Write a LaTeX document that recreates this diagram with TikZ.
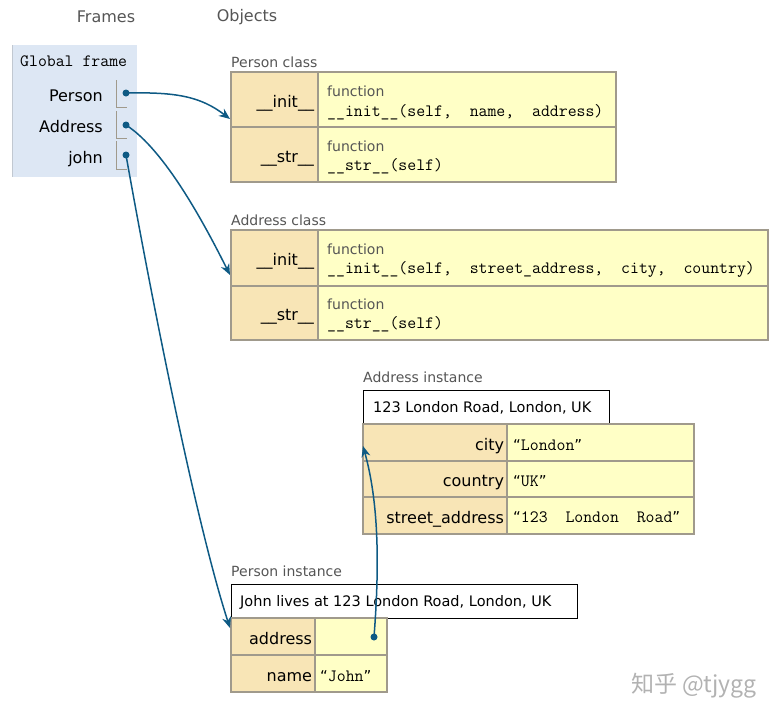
\documentclass[tikz,border=0pt]{standalone}
\usepackage{fontspec}
\setmainfont{DejaVu Sans}
\newfontfamily\cjkf{Noto Sans CJK SC}
\newfontfamily\qfont{DejaVu Sans}
\usetikzlibrary{arrows.meta}
\newcommand{\msp}{\hphantom{x}}
\newcommand{\oq}{{\qfont\fontsize{15}{16}\selectfont “}}
\newcommand{\cq}{{\qfont\fontsize{15}{16}\selectfont ”}}
\definecolor{keyc}{HTML}{F8E5B6}
\definecolor{valc}{HTML}{FFFFC6}
\definecolor{framec}{HTML}{DDE7F4}
\definecolor{bordc}{HTML}{A09A8C}
\definecolor{arrc}{HTML}{0E5A84}
\definecolor{labgray}{HTML}{555555}
\tikzset{
  hdr/.style={font=\fontsize{16}{18}\selectfont, text=labgray, inner sep=0},
  lab/.style={font=\fontsize{14}{16}\selectfont, text=labgray, anchor=base west, inner sep=0},
  fnlab/.style={font=\fontsize{14}{16}\selectfont, text=labgray, anchor=base west, inner sep=0},
  code/.style={font=\ttfamily\fontsize{17.3}{18}\selectfont, anchor=base west, inner sep=0},
  kcell/.style={draw=bordc, line width=1.2pt, fill=keyc, anchor=north west, inner sep=0, outer sep=0,
     align=right, font=\fontsize{16}{18}\selectfont, text height=15pt, text depth=0pt},
  vcell/.style={draw=bordc, line width=1.2pt, fill=valc, anchor=north west, inner sep=0, outer sep=0},
  strbox/.style={draw=black, line width=1pt, fill=white, anchor=north west, inner sep=0, outer sep=0,
     font=\fontsize{14.5}{16}\selectfont},
  fname/.style={font=\fontsize{16}{18}\selectfont, anchor=base east, inner sep=0},
  dot/.style={circle, fill=arrc, inner sep=0, minimum size=7pt},
  ptr/.style={draw=arrc, line width=1.5pt, -{Stealth[length=11pt,width=9pt]}},
  vline/.style={draw=bordc, line width=1pt},
}
\begin{document}
\begin{tikzpicture}[x=1pt,y=-1pt]
\useasboundingbox (0,0) rectangle (780,720);
% headers
\node[hdr] (hframes) at (106,17) {Frames};
\node[hdr] (hobjects) at (247,17) {Objects};
% global frame
\fill[framec] (12,45) rectangle (137,177);
\draw[framec!70!gray, line width=0.8pt] (12,45) -- (12,177);
\node[code, font=\ttfamily\fontsize{17.3}{18}\selectfont] (gf) at (20,66) {Global\msp frame};
\node[fname] (nperson) at (103,101) {Person};
\node[fname] (naddress) at (103,132) {Address};
\node[fname] (njohn) at (103,163) {john};
\draw[vline] (116,80) -- (116,107) -- (127,107);
\draw[vline] (116,111) -- (116,138) -- (127,138);
\draw[vline] (116,141) -- (116,169) -- (127,169);
\node[dot] (dperson) at (126,93) {};
\node[dot] (daddress) at (126,125) {};
\node[dot] (djohn) at (126,155) {};
% Person class
\node[lab] (lpc) at (231,67) {Person class};
\node[kcell, minimum width=87pt, minimum height=55pt, text width=79pt] (pcik) at (231,72) {\_\_init\_\_};
\node[vcell, minimum width=298pt, minimum height=55pt] (pciv) at (318,72) {};
\node[kcell, minimum width=87pt, minimum height=55pt, text width=79pt] (pcsk) at (231,127) {\_\_str\_\_};
\node[vcell, minimum width=298pt, minimum height=55pt] (pcsv) at (318,127) {};
\node[fnlab] (f1) at (327,96) {function};
\node[code] (c1) at (327,116) {\_\_init\_\_(self,\msp\msp name,\msp\msp address)};
\node[fnlab] (f2) at (327,151) {function};
\node[code] (c2) at (327,170) {\_\_str\_\_(self)};
% Address class
\node[lab] (lac) at (231,225) {Address class};
\node[kcell, minimum width=87pt, minimum height=56pt, text width=79pt] (acik) at (231,230) {\_\_init\_\_};
\node[vcell, minimum width=450pt, minimum height=56pt] (aciv) at (318,230) {};
\node[kcell, minimum width=87pt, minimum height=54pt, text width=79pt] (acsk) at (231,286) {\_\_str\_\_};
\node[vcell, minimum width=450pt, minimum height=54pt] (acsv) at (318,286) {};
\node[fnlab] (f3) at (327,254) {function};
\node[code] (c3) at (327,273) {\_\_init\_\_(self,\msp\msp street\_address,\msp\msp city,\msp\msp country)};
\node[fnlab] (f4) at (327,309) {function};
\node[code] (c4) at (327,328) {\_\_str\_\_(self)};
% Address instance
\node[lab] (lai) at (363,382) {Address instance};
\node[strbox, minimum width=246pt, minimum height=34pt] (aistr) at (363,390) {};
\node[anchor=base west, inner sep=0, font=\fontsize{14.5}{16}\selectfont] (aistrt) at (373,412) {123 London Road, London, UK};
\node[kcell, minimum width=144pt, minimum height=37pt, text width=138pt] (aik1) at (363,424) {city};
\node[vcell, minimum width=187pt, minimum height=37pt] (aiv1) at (507,424) {};
\node[kcell, minimum width=144pt, minimum height=36pt, text width=138pt] (aik2) at (363,461) {country};
\node[vcell, minimum width=187pt, minimum height=36pt] (aiv2) at (507,461) {};
\node[kcell, minimum width=144pt, minimum height=37pt, text width=138pt] (aik3) at (363,497) {street\_address};
\node[vcell, minimum width=187pt, minimum height=37pt] (aiv3) at (507,497) {};
\node[code] (v1) at (513,450) {\oq London\cq};
\node[code] (v2) at (513,486) {\oq UK\cq};
\node[code] (v3) at (513,522) {\oq 123\msp\msp London\msp\msp Road\cq};
% Person instance
\node[lab] (lpi) at (231,576) {Person instance};
\node[strbox, minimum width=346pt, minimum height=34pt] (pistr) at (231,584) {};
\node[anchor=base west, inner sep=0, font=\fontsize{14.5}{16}\selectfont] (pistrt) at (240,606) {John lives at 123 London Road, London, UK};
\node[kcell, minimum width=84pt, minimum height=37pt, text width=78pt] (pik1) at (231,618) {address};
\node[vcell, minimum width=72pt, minimum height=37pt] (piv1) at (315,618) {};
\node[kcell, minimum width=84pt, minimum height=37pt, text width=78pt] (pik2) at (231,655) {name};
\node[vcell, minimum width=72pt, minimum height=37pt] (piv2) at (315,655) {};
\node[code] (v4) at (320,681) {\oq John\cq};
\node[dot] (daddr) at (374,637) {};
% arrow targets
\coordinate (tpc) at (230,119);
\coordinate (tac) at (230,275);
\coordinate (tpi) at (230,628);
\coordinate (tai) at (363,446);
% pointers
\draw[ptr] (dperson.center) .. controls (175,92) and (200,96) .. (tpc);
\draw[ptr] (daddress.center) .. controls (165,150) and (205,225) .. (tac);
\draw[ptr] (djohn.center) .. controls (150,290) and (195,520) .. (tpi);
\draw[ptr] (daddr.center) .. controls (380,560) and (378,500) .. (tai);
% watermark
\node[inner sep=0, text=black!30, font=\cjkf\fontsize{23}{26}\selectfont] (wm) at (694,686) {知乎 @tjygg};
\end{tikzpicture}
\end{document}
